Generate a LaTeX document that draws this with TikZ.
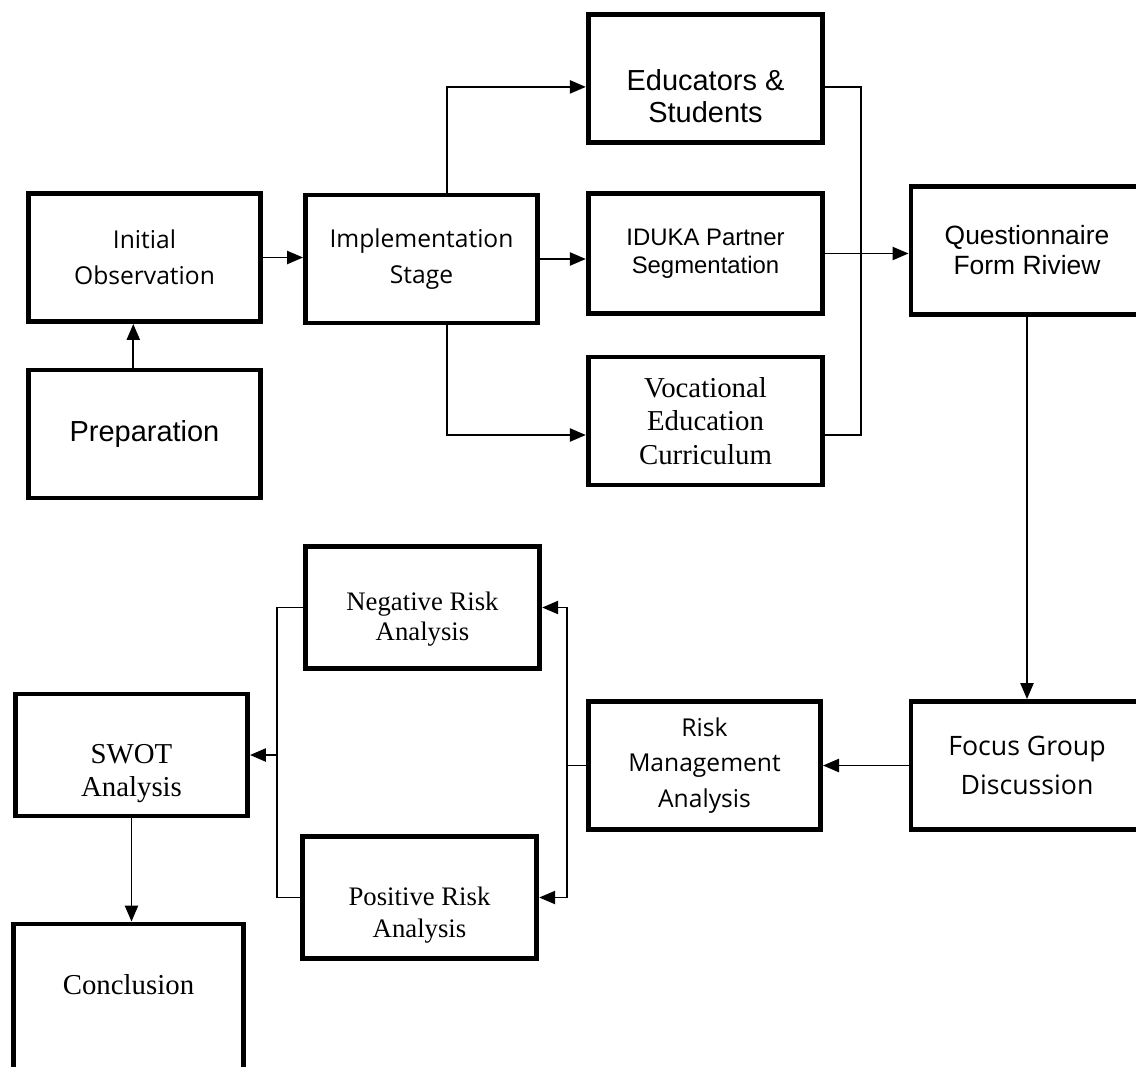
\documentclass[tikz,border=0pt]{standalone}
\usepackage{fontspec}
\newfontfamily\segoefont{Open Sans}
\newfontfamily\arialfont{Liberation Sans}
\newfontfamily\timesfont{Liberation Serif}
\usetikzlibrary{arrows.meta}
% text block moved off the box centre
\newcommand{\lowered}[2]{\raisebox{#1}[0pt][0pt]{\begin{tabular}{@{}c@{}}#2\end{tabular}}}

\tikzset{
  stagebox/.style={draw, line width=3.5pt, minimum width=5.8cm, minimum height=3.2cm,
    align=center, inner sep=0pt},
  ui/.style 2 args={font=\segoefont\fontsize{#1}{#2}\selectfont},
  sans/.style 2 args={font=\arialfont\fontsize{#1}{#2}\selectfont},
  roman/.style 2 args={font=\timesfont\fontsize{#1}{#2}\selectfont},
  link/.style={line width=1.3pt},
  arr/.style={link, -{Triangle[length=0.4cm, width=0.33cm]}},
}

\begin{document}
\begin{tikzpicture}[x=0.025cm, y=-0.025cm]
   \useasboundingbox (0,0) rectangle (1136,1066);

   % first row
   \node[stagebox, ui={17.5}{25.5}] (init) at (144.5,257.5) {Initial\\Observation};
   \node[stagebox, sans={20.6}{24}] (prep) at (144.5,434) {Preparation};
   \node[stagebox, ui={17.5}{25.5}] (impl) at (421.5,259) {Implementation\\Stage};
   \node[stagebox, sans={20.6}{23.2}, minimum width=5.86cm] (edu) at (705.5,78.5)
     {\lowered{-0.72cm}{Educators \&\\Students}};
   \node[stagebox, sans={17}{19.8}, minimum width=5.86cm, minimum height=3cm] (iduka) at (705.5,253.5)
     {IDUKA Partner\\Segmentation};
   \node[stagebox, roman={20.5}{23.6}, minimum width=5.86cm] (voc) at (705.5,421)
     {Vocational\\Education\\Curriculum};
   \node[stagebox, sans={18.8}{21.3}] (quest) at (1027,250.5) {Questionnaire\\Form Riview};

   % second row
   \node[stagebox, ui={19}{27.7}] (fgd) at (1027,765.5) {Focus Group\\Discussion};
   \node[stagebox, ui={17.5}{25.5}] (rma) at (704.5,765.5) {Risk\\Management\\Analysis};
   \node[stagebox, roman={19}{21.3}, minimum width=5.86cm, minimum height=3.05cm] (neg) at (422.5,607.5)
     {\lowered{-0.45cm}{Negative Risk\\Analysis}};
   \node[stagebox, roman={19}{22.8}, minimum width=5.86cm, minimum height=3.05cm] (pos) at (419.5,897.5)
     {\lowered{-0.6cm}{Positive Risk\\Analysis}};
   \node[stagebox, roman={20.5}{23.4}, minimum height=3.05cm] (swot) at (131.5,755)
     {\lowered{-0.65cm}{SWOT\\Analysis}};
   \node[stagebox, roman={20.5}{24}, minimum width=5.76cm, minimum height=4.05cm] (concl) at (128.5,1005)
     {\lowered{0.26cm}{Conclusion}};

   % connectors, top half
   \draw[arr] ([xshift=-0.28cm]prep.north) -- ([xshift=-0.28cm]init.south);
   \draw[arr] (init.east) -- (init.east -| impl.west);
   \draw[arr] ([xshift=0.64cm]impl.north) |- ([yshift=-0.21cm]edu.west);
   \draw[arr] (impl.east) -- (impl.east -| iduka.west);
   \draw[arr] ([xshift=0.64cm]impl.south) |- ([yshift=-0.35cm]voc.west);
   \coordinate (merge) at (861,256);
   \draw[link] ([yshift=-0.21cm]edu.east) -| (merge) |- ([yshift=-0.35cm]voc.east);
   \draw[arr] (iduka.east) -- (iduka.east -| quest.west);
   \draw[arr] (quest.south) -- (fgd.north);

   % connectors, bottom half
   \draw[arr] (fgd.west) -- (rma.east);
   \coordinate (riskfork) at (567,765.5);
   \draw[link] (rma.west) -- (riskfork);
   \draw[arr] (riskfork) |- (neg.east);
   \draw[arr] (riskfork) |- (pos.east);
   \coordinate (swotjoin) at (277,755);
   \draw[link] (neg.west) -| (swotjoin) |- (pos.west);
   \draw[arr] (swotjoin) -- (swot.east);
   \draw[arr] (swot.south) -- (swot.south |- concl.north);
\end{tikzpicture}
\end{document}
